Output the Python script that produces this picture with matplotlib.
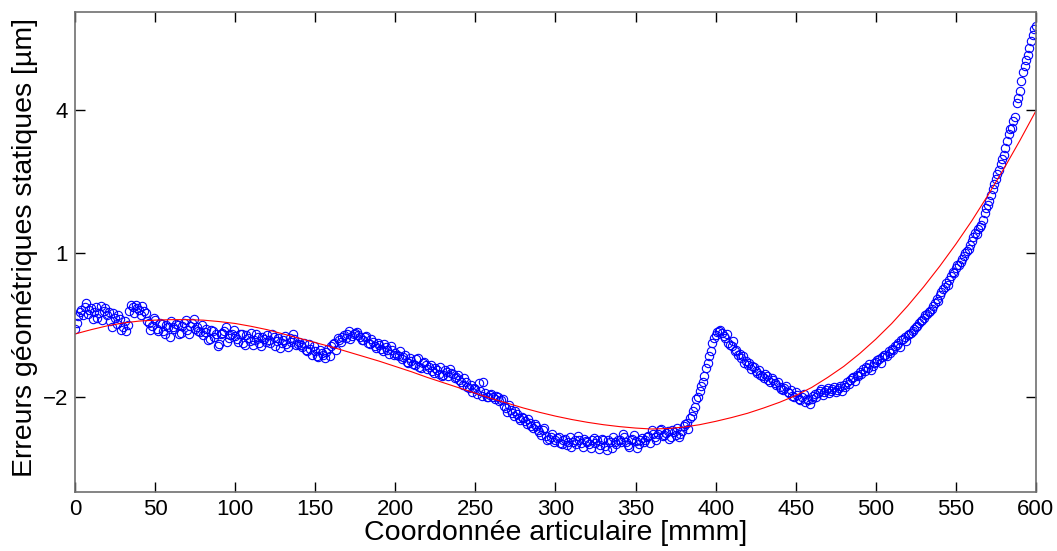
import numpy as np
import matplotlib.pyplot as plt

plt.rcParams['font.family'] = ['Liberation Sans', 'DejaVu Sans']

# measured points at even positions (0, 2, ..., 600 mm)
pos_even = np.arange(0, 601, 2)
err_even = [
    -0.58, -0.32, -0.18, -0.12, -0.28, -0.15, -0.22, -0.35, -0.10, -0.20,
    -0.30, -0.42, -0.25, -0.48, -0.38, -0.55, -0.62, -0.20, -0.12, -0.08,
    -0.18, -0.10, -0.26, -0.45, -0.52, -0.40, -0.62, -0.48, -0.70, -0.55,
    -0.42, -0.58, -0.50, -0.66, -0.45, -0.60, -0.52, -0.38, -0.55, -0.64,
    -0.72, -0.58, -0.80, -0.62, -0.70, -0.90, -0.66, -0.55, -0.78, -0.68,
    -0.74, -0.85, -0.70, -0.92, -0.78, -0.66, -0.82, -0.75, -0.95, -0.80,
    -0.72, -0.88, -0.76, -0.84, -0.98, -0.82, -0.90, -0.78, -0.68, -0.92,
    -0.85, -0.96, -1.02, -0.90, -1.12, -1.05, -1.18, -1.08, -1.20, -1.00,
    -0.95, -0.88, -0.78, -0.85, -0.72, -0.68, -0.80, -0.70, -0.64, -0.76,
    -0.82, -0.74, -0.90, -0.85, -0.98, -0.92, -1.05, -0.96, -1.10, -1.02,
    -1.08, -1.15, -1.22, -1.12, -1.30, -1.25, -1.35, -1.20, -1.40, -1.28,
    -1.42, -1.35, -1.50, -1.45, -1.38, -1.55, -1.48, -1.42, -1.52, -1.60,
    -1.65, -1.75, -1.70, -1.82, -1.90, -1.85, -1.72, -1.98, -1.92, -2.02,
    -1.95, -2.05, -2.00, -2.08, -2.20, -2.32, -2.28, -2.40, -2.36, -2.50,
    -2.45, -2.58, -2.55, -2.66, -2.62, -2.75, -2.70, -2.82, -2.88, -2.78,
    -2.92, -2.85, -3.00, -2.88, -2.95, -3.05, -2.90, -2.82, -2.98, -2.88,
    -2.95, -3.08, -2.86, -2.92, -3.02, -2.90, -3.12, -2.95, -2.85, -3.00,
    -2.90, -2.78, -2.96, -3.05, -2.88, -2.94, -3.00, -2.86, -2.92, -2.82,
    -2.70, -2.85, -2.78, -2.68, -2.80, -2.72, -2.84, -2.75, -2.66, -2.78,
    -2.62, -2.55, -2.45, -2.30, -2.05, -1.88, -1.70, -1.40, -1.15, -0.88,
    -0.72, -0.62, -0.66, -0.78, -0.88, -0.95, -1.05, -1.12, -1.20, -1.30,
    -1.35, -1.42, -1.38, -1.50, -1.55, -1.62, -1.58, -1.70, -1.66, -1.75,
    -1.80, -1.86, -1.78, -1.92, -1.98, -1.90, -2.05, -2.00, -2.12, -2.08,
    -2.05, -1.95, -1.92, -1.85, -1.90, -1.82, -1.88, -1.80, -1.86, -1.78,
    -1.75, -1.70, -1.66, -1.60, -1.55, -1.48, -1.42, -1.38, -1.32, -1.36,
    -1.28, -1.22, -1.18, -1.12, -1.05, -1.00, -0.95, -0.88, -0.82, -0.76,
    -0.72, -0.66, -0.58, -0.52, -0.42, -0.36, -0.28, -0.20, -0.10, 0.05,
    0.12, 0.25, 0.38, 0.45, 0.60, 0.70, 0.75, 0.88, 1.00, 1.10,
    1.25, 1.42, 1.50, 1.60, 1.85, 2.02, 2.22, 2.45, 2.65, 2.88,
    3.05, 3.35, 3.60, 3.78, 4.15, 4.40, 4.80, 5.05, 5.30, 5.58,
    5.75,
]

# measured points at odd positions (1, 3, ..., 599 mm)
pos_odd = np.arange(1, 600, 2)
err_odd = [
    -0.45, -0.22, -0.30, -0.05, -0.18, -0.38, -0.12, -0.25, -0.40, -0.15,
    -0.22, -0.55, -0.35, -0.30, -0.60, -0.42, -0.50, -0.08, -0.25, -0.15,
    -0.30, -0.20, -0.42, -0.60, -0.35, -0.58, -0.45, -0.62, -0.50, -0.75,
    -0.55, -0.48, -0.70, -0.52, -0.40, -0.68, -0.46, -0.58, -0.62, -0.50,
    -0.65, -0.82, -0.60, -0.75, -0.95, -0.70, -0.62, -0.86, -0.72, -0.60,
    -0.80, -0.68, -0.88, -0.72, -0.84, -0.92, -0.70, -0.88, -0.76, -0.86,
    -0.82, -0.70, -0.94, -0.78, -0.88, -0.74, -0.96, -0.85, -0.80, -0.90,
    -0.92, -0.88, -1.05, -1.00, -0.95, -1.15, -1.02, -1.12, -1.06, -1.15,
    -0.90, -1.02, -0.82, -0.75, -0.78, -0.62, -0.74, -0.66, -0.72, -0.82,
    -0.76, -0.88, -0.80, -0.94, -0.88, -1.00, -0.90, -1.02, -0.95, -1.12,
    -1.12, -1.05, -1.18, -1.28, -1.20, -1.32, -1.22, -1.38, -1.30, -1.35,
    -1.38, -1.46, -1.40, -1.52, -1.56, -1.44, -1.58, -1.50, -1.62, -1.55,
    -1.70, -1.62, -1.80, -1.76, -1.82, -1.95, -1.88, -1.70, -2.00, -1.96,
    -2.02, -1.98, -2.10, -2.05, -2.25, -2.18, -2.35, -2.30, -2.45, -2.42,
    -2.52, -2.48, -2.62, -2.58, -2.70, -2.80, -2.66, -2.92, -2.84, -2.95,
    -2.86, -2.98, -2.92, -3.02, -2.85, -2.96, -3.00, -2.92, -3.05, -2.94,
    -3.00, -2.90, -2.98, -3.10, -2.88, -3.04, -2.92, -3.08, -2.96, -2.90,
    -2.95, -2.85, -3.02, -2.92, -2.80, -3.08, -2.90, -2.96, -2.84, -2.98,
    -2.78, -2.92, -2.70, -2.82, -2.76, -2.88, -2.70, -2.80, -2.84, -2.72,
    -2.58, -2.68, -2.40, -2.22, -2.00, -1.78, -1.58, -1.30, -1.05, -0.78,
    -0.65, -0.60, -0.74, -0.70, -0.92, -0.84, -1.02, -1.10, -1.16, -1.25,
    -1.30, -1.36, -1.46, -1.44, -1.58, -1.52, -1.66, -1.62, -1.72, -1.70,
    -1.85, -1.82, -1.90, -1.86, -2.02, -1.96, -2.08, -1.94, -2.05, -2.15,
    -1.98, -2.02, -1.88, -1.96, -1.86, -1.92, -1.84, -1.90, -1.82, -1.88,
    -1.80, -1.74, -1.62, -1.68, -1.58, -1.52, -1.46, -1.40, -1.45, -1.30,
    -1.24, -1.30, -1.14, -1.16, -1.08, -1.02, -0.92, -0.96, -0.80, -0.84,
    -0.70, -0.62, -0.54, -0.46, -0.40, -0.30, -0.24, -0.16, -0.05, 0.00,
    0.18, 0.30, 0.34, 0.52, 0.58, 0.76, 0.82, 0.95, 1.05, 1.18,
    1.35, 1.40, 1.55, 1.70, 1.95, 2.10, 2.35, 2.55, 2.75, 2.98,
    3.20, 3.50, 3.62, 3.85, 4.25, 4.60, 4.92, 5.15, 5.45, 5.70,
]

# fitted curve, read every 10 mm
fit_mm = np.arange(0, 601, 10)
fit_um = [
    -0.69, -0.60, -0.52, -0.46, -0.42, -0.40, -0.39, -0.39, -0.40, -0.43,
    -0.47, -0.53, -0.60, -0.69, -0.78, -0.87, -0.96, -1.06, -1.16, -1.26,
    -1.37, -1.48, -1.60, -1.71, -1.82, -1.93, -2.04, -2.14, -2.24, -2.33,
    -2.41, -2.48, -2.54, -2.59, -2.63, -2.66, -2.68, -2.67, -2.64, -2.59,
    -2.52, -2.44, -2.35, -2.24, -2.12, -1.98, -1.81, -1.60, -1.37, -1.10,
    -0.80, -0.47, -0.10, 0.30, 0.73, 1.19, 1.68, 2.21, 2.77, 3.36,
    3.98,
]

fig = plt.figure(figsize=(10.57, 5.51), dpi=100)
ax = fig.add_axes([0.071, 0.107, 0.909, 0.871])

for xs, ys in [(pos_even, err_even), (pos_odd, err_odd)]:
    ax.plot(xs, ys, 'o', mfc='none', mec='blue', ms=6, mew=0.8)
ax.plot(fit_mm, fit_um, color='red', lw=0.8)

ax.set_xlim(0, 600)
ax.set_ylim(-4, 6.05)
ax.set_xticks(range(0, 601, 50))
ax.set_yticks([-2, 1, 4])
ax.tick_params(direction='in', length=7, width=1, labelsize=16,
               top=True, right=True, pad=5)
for s in ax.spines.values():
    s.set_color('#707070')
    s.set_linewidth(1.2)

ax.set_xlabel('Coordonnée articulaire [mmm]', fontsize=20.5, labelpad=0)
ax.set_ylabel('Erreurs géométriques statiques [µm]', fontsize=20.5)
ax.yaxis.set_label_coords(-0.039, 0.51)

fig.savefig('out.png', dpi=100)
